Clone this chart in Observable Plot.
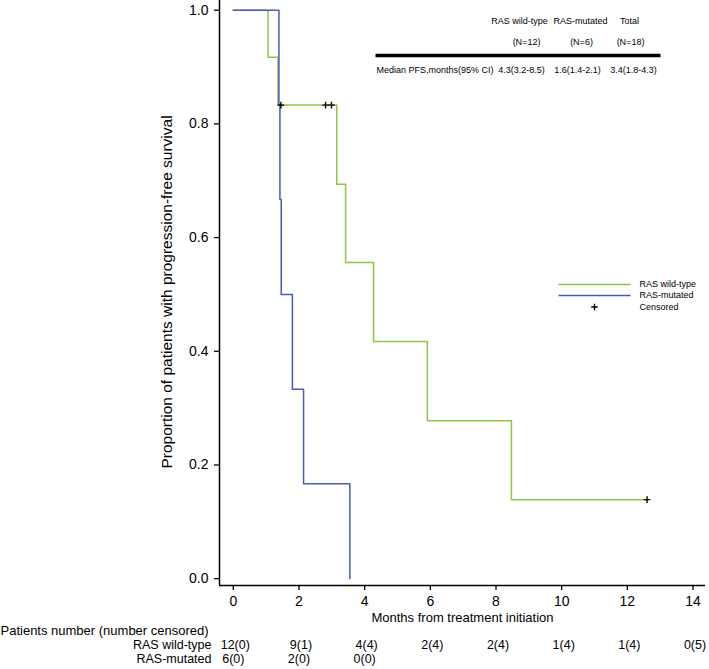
<!DOCTYPE html>
<html><head><meta charset="utf-8">
<script src="https://cdn.jsdelivr.net/npm/d3@7"></script>
<script src="https://cdn.jsdelivr.net/npm/@observablehq/plot@0.6"></script>
<style>body{margin:0;background:#fff;}</style>
</head><body><div id="chart"></div>
<script>
// ---- data ----
const groups = ["RAS wild-type", "RAS-mutated"];
const wildTimes = [0, 1.06, 1.36, 3.15, 3.42, 4.27, 5.91, 8.47, 12.6];
const wildSurv  = [1, 0.917, 0.833, 0.694, 0.556, 0.417, 0.278, 0.139, 0.139];
const mutTimes  = [0, 1.39, 1.42, 1.46, 1.80, 2.14, 3.55];
const mutSurv   = [1, 0.833, 0.667, 0.5, 0.333, 0.167, 0];
const censorTimes = [1.45, 2.81, 2.99, 12.6];
const censorSurv  = [0.833, 0.833, 0.833, 0.139];
const xTicks = [0, 2, 4, 6, 8, 10, 12, 14];
const yTicks = [0, 0.2, 0.4, 0.6, 0.8, 1.0];
const riskTimesWild = [0, 2, 4, 6, 8, 10, 12, 14];
const riskWild = ["12(0)", "9(1)", "4(4)", "2(4)", "2(4)", "1(4)", "1(4)", "0(5)"];
const riskTimesMut = [0, 2, 4];
const riskMut = ["6(0)", "2(0)", "0(0)"];
const tableHeads = ["RAS wild-type", "RAS-mutated", "Total"];
const tableN = ["(N=12)", "(N=6)", "(N=18)"];
const tableMedian = ["4.3(3.2-8.5)", "1.6(1.4-2.1)", "3.4(1.8-4.3)"];
const tableRowLabel = "Median PFS,months(95% CI)";
const legendLabels = ["RAS wild-type", "RAS-mutated", "Censored"];
const colors = ["#8dc63f", "#4a5bb5"];

// ---- layout ----
const W = 709, H = 669, mL = 219, mR = 4, mT = 0, mB = 84;
const xDom = [-0.42, 14.38], yDom = [-0.012, 1.017];
const px2x = p => xDom[0] + (p - mL) / (W - mL - mR) * (xDom[1] - xDom[0]);
const py2y = p => yDom[1] - (p - mT) / (H - mT - mB) * (yDom[1] - yDom[0]);
const font = "'Liberation Sans', Arial, Helvetica, sans-serif";

const curves = [
  ...wildTimes.map((t, i) => ({group: groups[0], time: t, surv: wildSurv[i]})),
  ...mutTimes.map((t, i) => ({group: groups[1], time: t, surv: mutSurv[i]}))
];
const censors = censorTimes.map((t, i) => ({time: t, surv: censorSurv[i]}));

const thinPlus = {
  draw(ctx, size) {
    const r = Math.sqrt(size / Math.PI);
    ctx.moveTo(-r, 0); ctx.lineTo(r, 0);
    ctx.moveTo(0, -r); ctx.lineTo(0, r);
  }
};

const headX = [519, 580, 629];
const nX = [526, 581, 630];
const medX = [521, 577, 633];
const legendY = [284, 295, 306.5];

const chart = Plot.plot({
  width: W, height: H,
  marginLeft: mL, marginRight: mR, marginTop: mT, marginBottom: mB,
  style: {fontFamily: font, background: "#fff", color: "#000"},
  x: {domain: xDom},
  y: {domain: yDom},
  marks: [
    Plot.axisX({ticks: xTicks, tickSize: 5, tickPadding: 6, fontSize: 14, strokeWidth: 1.3, label: null}),
    Plot.axisY({ticks: yTicks, tickFormat: ".1f", tickSize: 5, tickPadding: 6, fontSize: 14, strokeWidth: 1.3, label: null}),
    Plot.ruleX([xDom[0]], {strokeWidth: 1.5}),
    Plot.ruleY([yDom[0]], {strokeWidth: 1.5}),
    // curves: wild-type first, mutated on top
    Plot.line(curves.filter(d => d.group === groups[0]), {x: "time", y: "surv", curve: "step-after", stroke: colors[0], strokeWidth: 1.5}),
    Plot.line(curves.filter(d => d.group === groups[1]), {x: "time", y: "surv", curve: "step-after", stroke: colors[1], strokeWidth: 1.5}),
    Plot.dot(censors, {x: "time", y: "surv", symbol: thinPlus, r: 3.3, stroke: "#000", fill: "none", strokeWidth: 1.4}),
    // y label
    Plot.text(["Proportion of patients with progression-free survival"], {text: d => d, frameAnchor: "left", textAnchor: "middle", rotate: -90, dx: -52, dy: -1, fontSize: 15.5}),
    // x label
    Plot.text(["Months from treatment initiation"], {text: d => d, frameAnchor: "bottom", textAnchor: "middle", dy: 36, fontSize: 13}),
    // risk table
    Plot.text(["Patients number (number censored)"], {text: d => d, frameAnchor: "bottom-left", dx: -219, dy: 49, textAnchor: "start", fontSize: 13}),
    Plot.text([groups[0]], {text: d => d, frameAnchor: "bottom-left", dx: -8, dy: 63, textAnchor: "end", fontSize: 12.5}),
    Plot.text([groups[1]], {text: d => d, frameAnchor: "bottom-left", dx: -8, dy: 77, textAnchor: "end", fontSize: 12.5}),
    Plot.text(riskWild, {x: (d, i) => riskTimesWild[i], text: d => d, frameAnchor: "bottom", textAnchor: "middle", dx: 2, dy: 63, fontSize: 12.5}),
    Plot.text(riskMut, {x: (d, i) => riskTimesMut[i], text: d => d, frameAnchor: "bottom", textAnchor: "middle", dy: 77, fontSize: 12.5}),
    // top-right summary table
    Plot.text(tableHeads, {x: (d, i) => px2x(headX[i]), y: () => py2y(21), text: d => d, fontSize: 9}),
    Plot.text(tableN, {x: (d, i) => px2x(nX[i]), y: () => py2y(42), text: d => d, fontSize: 9}),
    Plot.link([0], {x1: () => px2x(375), x2: () => px2x(660), y1: () => py2y(55), y2: () => py2y(55), stroke: "#000", strokeWidth: 3.5}),
    Plot.text([tableRowLabel], {x: () => px2x(376), y: () => py2y(70), text: d => d, textAnchor: "start", fontSize: 9}),
    Plot.text(tableMedian, {x: (d, i) => px2x(medX[i]), y: () => py2y(70), text: d => d, fontSize: 9}),
    // legend
    Plot.link([0, 1], {x1: () => px2x(558), x2: () => px2x(630), y1: (d) => py2y(legendY[d]), y2: (d) => py2y(legendY[d]), stroke: d => colors[d], strokeWidth: 1.5}),
    Plot.dot([0], {x: () => px2x(594), y: () => py2y(legendY[2]), symbol: thinPlus, r: 3.3, stroke: "#000", fill: "none", strokeWidth: 1.4}),
    Plot.text(legendLabels, {x: () => px2x(639), y: (d, i) => py2y(legendY[i]), text: d => d, textAnchor: "start", fontSize: 9})
  ]
});
document.getElementById("chart").appendChild(chart);
</script>
</body></html>
